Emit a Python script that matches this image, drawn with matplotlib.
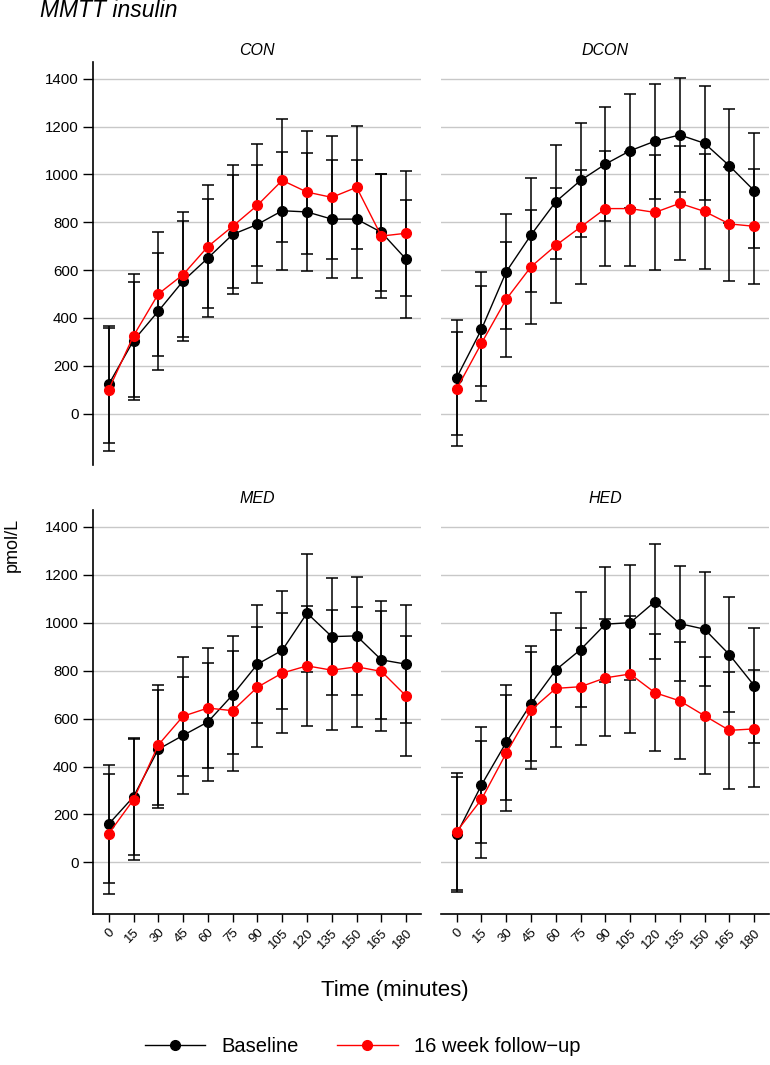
import matplotlib
matplotlib.use("Agg")
import matplotlib.pyplot as plt
from matplotlib.lines import Line2D

plt.rcParams['font.family'] = ['Liberation Sans', 'DejaVu Sans']

# sampling times (minutes)
times = [0, 15, 30, 45, 60, 75, 90, 105, 120, 135, 150, 165, 180]
groups = ["CON", "DCON", "MED", "HED"]

# mean insulin (pmol/L) and error half-widths
con_base = [122, 305, 428, 554, 650, 749, 791, 848, 843, 813, 813, 758, 645]
con_base_err = [244, 247, 245, 250, 246, 248, 247, 247, 245, 246, 246, 245, 246]
con_fu = [100, 325, 500, 581, 698, 783, 871, 975, 926, 904, 946, 742, 754]
con_fu_err = [257, 257, 258, 260, 258, 257, 256, 258, 257, 256, 258, 259, 261]

dcon_base = [150, 352, 593, 747, 886, 975, 1043, 1099, 1139, 1165, 1130, 1036, 932]
dcon_base_err = [240, 238, 240, 239, 238, 238, 239, 238, 240, 238, 239, 239, 239]
dcon_fu = [103, 294, 478, 614, 703, 780, 857, 857, 841, 879, 845, 793, 783]
dcon_fu_err = [240, 240, 240, 239, 239, 238, 240, 238, 240, 239, 240, 239, 240]

med_base = [160, 274, 472, 530, 586, 699, 827, 885, 1040, 942, 945, 845, 827]
med_base_err = [245, 245, 246, 245, 246, 245, 245, 246, 245, 245, 246, 245, 245]
med_fu = [120, 262, 490, 610, 644, 633, 731, 790, 820, 802, 816, 797, 694]
med_fu_err = [250, 251, 250, 249, 250, 251, 250, 250, 250, 251, 250, 250, 250]

hed_base = [118, 323, 501, 662, 803, 888, 994, 1000, 1088, 996, 973, 867, 738]
hed_base_err = [240, 240, 239, 240, 239, 240, 240, 239, 240, 240, 239, 240, 240]
hed_fu = [129, 263, 456, 635, 726, 733, 770, 786, 708, 674, 612, 551, 557]
hed_fu_err = [244, 244, 243, 244, 244, 243, 244, 244, 244, 244, 243, 244, 244]

baseline = [con_base, dcon_base, med_base, hed_base]
baseline_err = [con_base_err, dcon_base_err, med_base_err, hed_base_err]
followup = [con_fu, dcon_fu, med_fu, hed_fu]
followup_err = [con_fu_err, dcon_fu_err, med_fu_err, hed_fu_err]

yticks = [0, 200, 400, 600, 800, 1000, 1200, 1400]

fig = plt.figure(figsize=(7.7, 10.65), dpi=100)

# [left, bottom, width, height] for each panel
positions = [
    [0.1208, 0.5634, 0.4260, 0.3784],
    [0.5727, 0.5634, 0.4260, 0.3784],
    [0.1208, 0.1418, 0.4260, 0.3793],
    [0.5727, 0.1418, 0.4260, 0.3793],
]

for i, name in enumerate(groups):
    ax = fig.add_axes(positions[i])
    left = i % 2 == 0
    bottom = i >= 2

    ax.errorbar(times, baseline[i], yerr=baseline_err[i], fmt='none',
                ecolor='black', elinewidth=1.1, capsize=4, capthick=1.1, zorder=2)
    ax.errorbar(times, followup[i], yerr=followup_err[i], fmt='none',
                ecolor='black', elinewidth=1.1, capsize=4, capthick=1.1, zorder=2)
    ax.plot(times, baseline[i], '-o', color='black', lw=1, ms=7, zorder=3)
    ax.plot(times, followup[i], '-o', color='red', lw=1, ms=7, zorder=4)

    ax.set_xlim(-9.5, 189)
    ax.set_ylim(-215, 1470)
    ax.set_yticks(yticks)
    ax.yaxis.grid(True, color='#c8c8c8', lw=1)
    ax.set_axisbelow(True)

    for s in ['top', 'right']:
        ax.spines[s].set_visible(False)
    ax.spines['left'].set_visible(left)
    ax.spines['bottom'].set_visible(bottom)
    ax.spines['left'].set_linewidth(1.2)
    ax.spines['bottom'].set_linewidth(1.2)

    ax.tick_params(axis='y', length=7 if left else 0, width=1,
                   labelleft=left, labelsize=10.8)
    if bottom:
        ax.set_xticks(times)
        ax.set_xticklabels([str(t) for t in times], rotation=45,
                           ha='right', va='top', rotation_mode='anchor', fontsize=9.5)
        ax.tick_params(axis='x', length=6, width=1, pad=3)
    else:
        ax.set_xticks([])

    ax.set_title(name, fontsize=11.5, style='italic', pad=5)

fig.text(0.052, 0.984, "MMTT insulin", fontsize=16.5, style='italic', va='baseline', ha='left')
fig.text(0.016, 0.488, "pmol/L", fontsize=13, rotation=90, va='center', ha='center')
fig.text(0.513, 0.070, "Time (minutes)", fontsize=16, va='center', ha='center')

handles = [
    Line2D([], [], color='black', marker='o', lw=1, ms=7),
    Line2D([], [], color='red', marker='o', lw=1, ms=7),
]
fig.legend(handles, ["Baseline", "16 week follow\u2212up"], loc='center',
           bbox_to_anchor=(0.471, 0.017), ncol=2, frameon=False, fontsize=14.5,
           handlelength=3.0, columnspacing=1.9, handletextpad=0.8)

fig.savefig("out.png", dpi=100)
